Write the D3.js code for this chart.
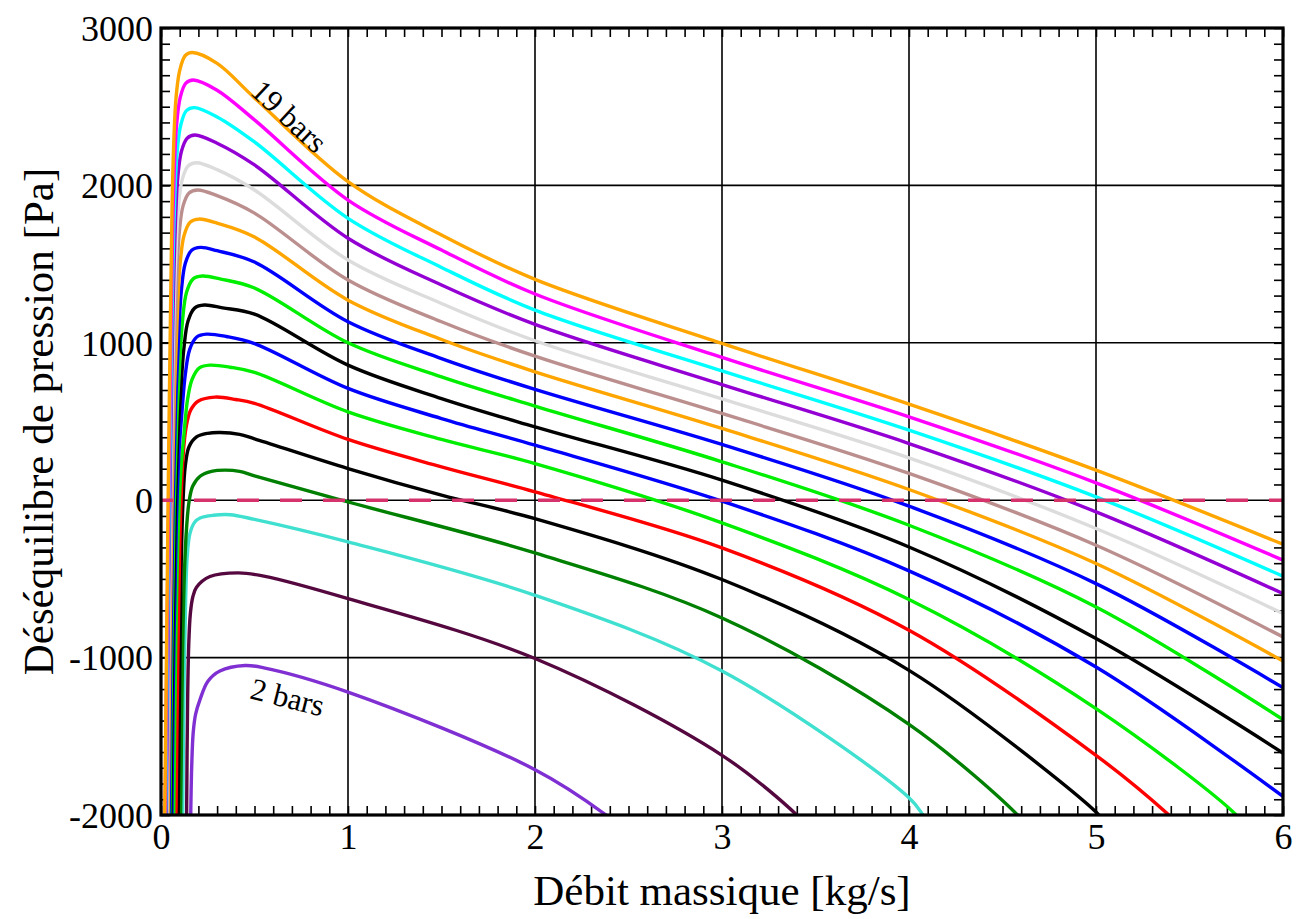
<!DOCTYPE html>
<html>
<head>
<meta charset="utf-8">
<script src="https://cdn.jsdelivr.net/npm/d3@7"></script>
<style>
  body { margin: 0; background: #fff; }
  svg text { font-family: "Liberation Serif", "Times New Roman", serif; fill: #000; }
</style>
</head>
<body>
<div id="chart"></div>
<script>
// pressure balance curves, one per inlet pressure (2 to 19 bars)
// points are [mass flow kg/s, pressure imbalance Pa]
var curve2 = [[0.159,-2000],[0.164,-1700],[0.172,-1480],[0.185,-1360],[0.209,-1265],[0.251,-1150],[0.315,-1085],[0.449,-1050],[0.55,-1065],[1,-1219],[2,-1712],[2.38,-2000],[2.41,-2030]];
var curve3 = [[0.137,-2000],[0.142,-1300],[0.148,-930],[0.157,-720],[0.17,-615],[0.19,-553],[0.262,-485],[0.413,-462],[0.55,-482],[1,-625],[2,-1006],[3,-1621],[3.4,-2000],[3.43,-2040]];
var curve4 = [[0.116,-2000],[0.124,-1100],[0.132,-620],[0.14,-360],[0.155,-210],[0.18,-140],[0.209,-113],[0.28,-96],[0.369,-92],[0.5,-122],[1,-265],[2,-604],[3,-1085],[4,-1890],[4.075,-2000],[4.1,-2040]];
var curve5 = [[0.105,-2000],[0.115,-1000],[0.125,-470],[0.137,-170],[0.15,-10],[0.17,90],[0.209,152],[0.27,183],[0.342,191],[0.42,183],[0.5,155],[1,-11],[2,-335],[3,-748],[4,-1424],[4.58,-2000],[4.62,-2060]];
var curve6 = [[0.092,-2000],[0.1,-1100],[0.108,-400],[0.118,0],[0.13,220],[0.15,340],[0.19,402],[0.25,425],[0.316,430],[0.42,418],[0.5,390],[1,201],[1.5,32],[2,-117],[3,-504],[4,-1081],[5,-1981],[5.02,-2010]];
var curve7 = [[0.08,-2000],[0.09,-1000],[0.1,-300],[0.112,150],[0.125,380],[0.14,500],[0.16,575],[0.2,630],[0.289,655],[0.4,640],[0.5,615],[1,386],[1.5,212],[2,53],[3,-303],[4,-826],[5,-1621],[5.39,-2000],[5.45,-2070]];
var curve8 = [[0.068,-2000],[0.079,-900],[0.092,-200],[0.107,200],[0.123,420],[0.142,640],[0.167,770],[0.207,842],[0.262,858],[0.37,845],[0.5,812],[1,561],[1.5,386],[2,233],[3,-144],[4,-631],[5,-1324],[5.75,-2000],[5.8,-2080]];
var curve9 = [[0.058,-2000],[0.069,-900],[0.082,-150],[0.096,300],[0.112,560],[0.13,800],[0.154,960],[0.191,1037],[0.244,1055],[0.35,1040],[0.5,995],[1,710],[1.5,519],[2,350],[3,-6],[4,-449],[5,-1060],[6,-1882]];
var curve10 = [[0.052,-2000],[0.063,-900],[0.076,-100],[0.09,400],[0.105,680],[0.122,960],[0.145,1140],[0.181,1222],[0.232,1240],[0.33,1222],[0.5,1182],[1,858],[1.5,646],[2,466],[3,127],[4,-297],[5,-879],[6,-1606]];
var curve11 = [[0.047,-2000],[0.058,-900],[0.07,-50],[0.084,500],[0.098,820],[0.115,1140],[0.137,1322],[0.172,1406],[0.221,1424],[0.32,1405],[0.5,1348],[1,1000],[1.5,784],[2,598],[3,244],[4,-159],[5,-678],[6,-1394]];
var curve12 = [[0.043,-2000],[0.053,-900],[0.065,0],[0.078,600],[0.092,980],[0.108,1320],[0.13,1505],[0.164,1588],[0.212,1606],[0.3,1585],[0.5,1513],[1,1134],[1.5,900],[2,704],[3,354],[4,-38],[5,-530],[6,-1191]];
var curve13 = [[0.038,-2000],[0.048,-900],[0.06,50],[0.072,700],[0.086,1140],[0.102,1500],[0.124,1685],[0.157,1768],[0.203,1786],[0.3,1760],[0.5,1672],[1,1271],[1.5,1021],[2,816],[3,456],[4,68],[5,-402],[6,-1022]];
var curve14 = [[0.034,-2000],[0.044,-900],[0.056,100],[0.068,820],[0.081,1310],[0.097,1690],[0.118,1870],[0.15,1952],[0.196,1971],[0.3,1935],[0.5,1824],[1,1399],[1.5,1134],[2,915],[3,551],[4,170],[5,-286],[6,-869]];
var curve15 = [[0.031,-2000],[0.041,-900],[0.052,100],[0.064,900],[0.077,1480],[0.093,1860],[0.114,2040],[0.146,2125],[0.19,2144],[0.3,2100],[0.5,1971],[1,1526],[1.5,1250],[2,1013],[3,644],[4,269],[5,-180],[6,-720]];
var curve16 = [[0.028,-2000],[0.038,-900],[0.049,150],[0.061,1000],[0.074,1650],[0.089,2040],[0.109,2215],[0.14,2300],[0.182,2320],[0.3,2268],[0.5,2130],[1,1664],[1.5,1367],[2,1117],[3,735],[4,360],[5,-74],[6,-593]];
var curve17 = [[0.025,-2000],[0.035,-900],[0.046,200],[0.058,1100],[0.071,1820],[0.086,2210],[0.106,2385],[0.136,2475],[0.178,2494],[0.3,2435],[0.5,2276],[1,1791],[1.5,1479],[2,1208],[3,822],[4,445],[5,21],[6,-483]];
var curve18 = [[0.022,-2000],[0.032,-900],[0.043,200],[0.055,1200],[0.068,1980],[0.083,2380],[0.103,2560],[0.133,2650],[0.173,2670],[0.3,2605],[0.5,2416],[1,1907],[1.5,1589],[2,1310],[3,907],[4,530],[5,110],[6,-381]];
var curve19 = [[0.02,-2000],[0.03,-900],[0.04,200],[0.052,1300],[0.065,2150],[0.08,2550],[0.1,2730],[0.13,2825],[0.167,2844],[0.3,2775],[0.5,2556],[1,2024],[1.5,1685],[2,1403],[3,996],[4,610],[5,191],[6,-280]];

var curves = [curve2, curve3, curve4, curve5, curve6, curve7, curve8, curve9, curve10,
              curve11, curve12, curve13, curve14, curve15, curve16, curve17, curve18, curve19];

var curveColors = ['#7f2fd2', '#55083f', '#40e0d0', '#008000', '#000000', '#ff0000', '#00ee00', '#0000ff', '#000000',
                   '#00ee00', '#0000ff', '#ffa500', '#bc8f8f', '#dcdcdc', '#9400d3', '#00ffff', '#ff00ff', '#ffa500'];

var xTicks = [0, 1, 2, 3, 4, 5, 6];
var yTicks = [-2000, -1000, 0, 1000, 2000, 3000];

(function () {

  var margin = { top: 28, right: 16, bottom: 104, left: 161 }

  var width = 1299 - margin.left - margin.right,
      height = 919 - margin.top - margin.bottom

  var svg = d3.select("#chart").append("svg")
    .attr("width", width + margin.left + margin.right)
    .attr("height", height + margin.top + margin.bottom)
    .append("g")
    .attr("transform", "translate(" + margin.left + "," + margin.top + ")")

  var xPositionScale = d3.scaleLinear()
    .domain([0, 6])
    .range([0, width])

  var yPositionScale = d3.scaleLinear()
    .domain([-2000, 3000])
    .range([height, 0])

  svg.append("clipPath")
    .attr("id", "plot-clip")
    .append("rect")
    .attr("width", width)
    .attr("height", height)

  // grid at the major ticks
  svg.append("g")
    .selectAll("line.vgrid")
    .data(xTicks.slice(1, -1))
    .enter().append("line")
    .attr("x1", function (d) { return xPositionScale(d) })
    .attr("x2", function (d) { return xPositionScale(d) })
    .attr("y1", 0)
    .attr("y2", height)
    .attr("stroke", "#000")
    .attr("stroke-width", 1.6)

  svg.append("g")
    .selectAll("line.hgrid")
    .data(yTicks.slice(1, -1))
    .enter().append("line")
    .attr("x1", 0)
    .attr("x2", width)
    .attr("y1", function (d) { return yPositionScale(d) })
    .attr("y2", function (d) { return yPositionScale(d) })
    .attr("stroke", "#000")
    .attr("stroke-width", 1.6)

  // minor ticks on all four sides, pointing in
  var tickLen = 9
  function minor(g) {
    g.selectAll(".domain").remove()
    g.selectAll(".tick line").attr("stroke", "#000").attr("stroke-width", 1.6)
  }
  svg.append("g")
    .attr("transform", "translate(0," + height + ")")
    .call(d3.axisBottom(xPositionScale).ticks(60).tickSize(-tickLen).tickFormat(""))
    .call(minor)
  svg.append("g")
    .call(d3.axisTop(xPositionScale).ticks(60).tickSize(-tickLen).tickFormat(""))
    .call(minor)
  svg.append("g")
    .call(d3.axisLeft(yPositionScale).ticks(50).tickSize(-tickLen).tickFormat(""))
    .call(minor)
  svg.append("g")
    .attr("transform", "translate(" + width + ",0)")
    .call(d3.axisRight(yPositionScale).ticks(50).tickSize(-tickLen).tickFormat(""))
    .call(minor)

  // the curves
  var line = d3.line()
    .x(function (d) { return xPositionScale(d[0]) })
    .y(function (d) { return yPositionScale(d[1]) })
    .curve(d3.curveCatmullRom.alpha(0.5))

  svg.append("g")
    .attr("clip-path", "url(#plot-clip)")
    .selectAll("path")
    .data(curves)
    .enter().append("path")
    .attr("d", line)
    .attr("fill", "none")
    .attr("stroke", function (d, i) { return curveColors[i] })
    .attr("stroke-width", 3.4)
    .attr("stroke-linejoin", "round")

  // zero line
  svg.append("line")
    .attr("x1", 0)
    .attr("x2", width)
    .attr("y1", yPositionScale(0))
    .attr("y2", yPositionScale(0))
    .attr("stroke", "#d6336c")
    .attr("stroke-width", 3.4)
    .attr("stroke-dasharray", "22,21")
    .attr("stroke-dashoffset", 10)

  // frame
  svg.append("rect")
    .attr("width", width)
    .attr("height", height)
    .attr("fill", "none")
    .attr("stroke", "#000")
    .attr("stroke-width", 3.2)

  // tick labels
  var yAxis = d3.axisLeft(yPositionScale)
    .tickValues(yTicks)
    .tickSize(0)
    .tickPadding(8)
    .tickFormat(function (d) { return String(d) })
  svg.append("g")
    .attr("class", "axis y-axis")
    .call(yAxis)
    .call(function (g) { g.select(".domain").remove() })
    .selectAll("text")
    .style("font-size", "36px")
    .attr("dy", "0.34em")

  var xAxis = d3.axisBottom(xPositionScale)
    .tickValues(xTicks)
    .tickSize(0)
    .tickPadding(8)
    .tickFormat(function (d) { return String(d) })
  svg.append("g")
    .attr("class", "axis x-axis")
    .attr("transform", "translate(0," + height + ")")
    .call(xAxis)
    .call(function (g) { g.select(".domain").remove() })
    .selectAll("text")
    .style("font-size", "36px")
    .attr("dy", "0.72em")

  // axis titles
  svg.append("text")
    .attr("x", width / 2)
    .attr("y", height + 90)
    .attr("text-anchor", "middle")
    .style("font-size", "43px")
    .text("Débit massique [kg/s]")

  svg.append("text")
    .attr("transform", "translate(" + (-108) + "," + (height / 2) + ") rotate(-90)")
    .attr("text-anchor", "middle")
    .style("font-size", "43px")
    .text("Déséquilibre de pression [Pa]")

  // curve labels
  svg.append("text")
    .attr("transform", "translate(" + xPositionScale(0.647) + "," + yPositionScale(2390) + ") rotate(43)")
    .attr("text-anchor", "middle")
    .style("font-size", "31px")
    .text("19 bars")

  svg.append("text")
    .attr("transform", "translate(" + xPositionScale(0.663) + "," + yPositionScale(-1316) + ") rotate(14)")
    .attr("text-anchor", "middle")
    .style("font-size", "31px")
    .text("2 bars")

})()
</script>
</body>
</html>
